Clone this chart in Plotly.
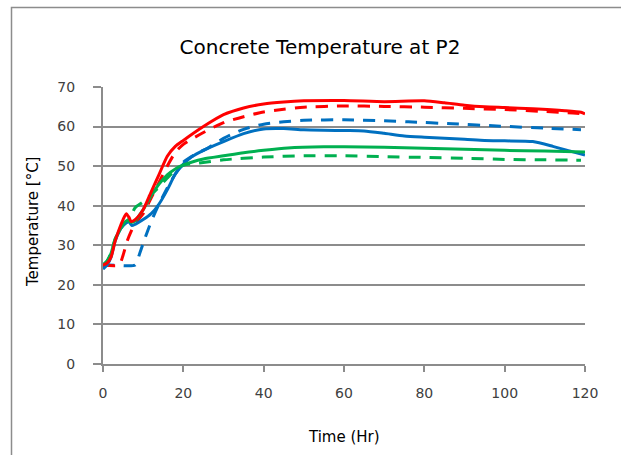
import plotly.graph_objects as go

# Time (hours) and temperature (°C) readings for each sensor series
red_solid_t = [0, 1, 2, 3, 4, 5, 5.8, 6.5, 7, 8, 10, 12, 14, 16, 18, 20, 25, 30, 35, 40, 45, 50, 60, 70, 80, 85, 90, 95, 100, 107, 115, 119, 120]
red_solid_v = [25, 25.5, 27, 31, 34, 36.5, 38, 37, 36, 36.5, 39, 43.5, 48, 52.5, 55, 56.5, 60, 63, 64.7, 65.7, 66.2, 66.5, 66.6, 66.3, 66.5, 66, 65.4, 65, 64.8, 64.5, 64, 63.6, 63.2]

red_dash_t = [0, 4, 5, 6, 7, 8, 10, 12, 14, 16, 18, 20, 25, 30, 35, 40, 45, 50, 60, 70, 80, 90, 100, 110, 117, 120]
red_dash_v = [25, 25, 27.5, 31, 33.5, 35.5, 38, 42, 46, 50, 53.5, 55.5, 58.5, 61, 62.5, 63.7, 64.4, 64.9, 65.2, 65.1, 64.9, 64.6, 64.3, 63.8, 63.4, 63.2]

blue_solid_t = [0, 1, 2, 3, 4, 5, 6.4, 7.2, 8, 10, 12, 14, 16, 18, 20, 22, 25, 30, 35, 40, 45, 50, 60, 65, 70, 75, 80, 90, 95, 100, 107, 112, 117, 120]
blue_solid_v = [24, 25, 27, 31, 33.5, 35, 36, 35, 35.3, 36.5, 38, 40.5, 44, 48, 50.5, 52.3, 54, 56.2, 58.2, 59.4, 59.5, 59.2, 59, 58.9, 58.3, 57.6, 57.3, 56.8, 56.5, 56.4, 56.2, 55, 53.6, 52.8]

blue_dash_t = [0, 1, 8, 9, 10, 12, 14, 16, 18, 20, 23, 26, 30, 35, 40, 45, 50, 60, 70, 76, 87, 99, 110, 119]
blue_dash_v = [24.5, 25, 25, 27.5, 30.5, 36, 40.5, 44.5, 48, 51, 53, 54.5, 57, 59.3, 60.6, 61.2, 61.6, 61.7, 61.5, 61.2, 60.7, 60.1, 59.6, 59.2]

green_solid_t = [0, 1, 2, 3, 4, 5, 6, 7, 8, 10, 12, 14, 16, 18, 20, 22, 25, 30, 35, 40, 46, 55, 60, 70, 80, 90, 100, 110, 120]
green_solid_v = [25, 26, 28, 31.5, 33.5, 35.3, 36.3, 35.8, 36.2, 39, 42.5, 45.5, 47.8, 49.3, 50.3, 51, 51.8, 52.6, 53.4, 54, 54.6, 54.9, 54.9, 54.8, 54.5, 54.3, 54, 53.8, 53.6]

green_dash_t = [0, 1, 2, 3, 4, 5, 6, 7, 8, 10, 12, 14, 16, 18, 20, 24, 30, 40, 50, 60, 70, 80, 90, 100, 110, 119]
green_dash_v = [25, 26, 28, 31.5, 33.5, 35, 36, 37.5, 39.5, 41, 42.8, 44.8, 47, 49, 50.2, 50.8, 51.6, 52.3, 52.6, 52.6, 52.4, 52.2, 52, 51.7, 51.6, 51.5]

y_ticks = [0, 10, 20, 30, 40, 50, 60, 70]
x_ticks = [0, 20, 40, 60, 80, 100, 120]

RED = "#FF0000"
BLUE = "#0070C0"
GREEN = "#00B050"
GRID = "#8c8c8c"
DASH = "12px,9px"
FONT = "DejaVu Sans, sans-serif"

fig = go.Figure()

series = [
    (blue_dash_t, blue_dash_v, BLUE, DASH),
    (green_dash_t, green_dash_v, GREEN, DASH),
    (red_dash_t, red_dash_v, RED, DASH),
    (blue_solid_t, blue_solid_v, BLUE, "solid"),
    (green_solid_t, green_solid_v, GREEN, "solid"),
    (red_solid_t, red_solid_v, RED, "solid"),
]
for t, v, c, d in series:
    fig.add_trace(go.Scatter(
        x=t, y=v, mode="lines",
        line=dict(color=c, width=3, dash=d, shape="spline", smoothing=0.6),
        showlegend=False, hoverinfo="skip",
    ))

fig.update_layout(
    width=621, height=455,
    margin=dict(l=103, r=36, t=87, b=91),
    paper_bgcolor="white", plot_bgcolor="white",
    font=dict(family=FONT, size=14, color="#404040"),
    title=dict(
        text="Concrete Temperature at P2",
        font=dict(family=FONT, size=20, color="#000000"),
        x=(320 - 103) / 482, xref="paper", xanchor="center",
        y=1 - 47 / 455, yref="container", yanchor="middle",
    ),
    xaxis=dict(
        range=[0, 120], tickvals=x_ticks, showgrid=False, zeroline=False,
        showline=True, linecolor=GRID, linewidth=2,
        ticks="outside", ticklen=6, tickwidth=2, tickcolor=GRID,
        ticklabelstandoff=9,
    ),
    yaxis=dict(
        range=[0, 70], tickvals=y_ticks, showgrid=True, gridcolor=GRID, gridwidth=2,
        zeroline=False, showline=True, linecolor=GRID, linewidth=2,
        ticks="outside", ticklen=8, tickwidth=2, tickcolor=GRID,
        ticklabelstandoff=15,
    ),
    annotations=[
        dict(text="Time (Hr)", xref="paper", yref="paper",
             x=(344 - 103) / 482, y=(364 - 437) / 277,
             xanchor="center", yanchor="middle", showarrow=False,
             font=dict(family=FONT, size=15, color="#000000")),
        dict(text="Temperature [°C]", xref="paper", yref="paper",
             x=(33 - 103) / 482, y=(364 - 222) / 277, textangle=-90,
             xanchor="center", yanchor="middle", showarrow=False,
             font=dict(family=FONT, size=15, color="#000000")),
    ],
    shapes=[
        # chart-area frame
        dict(type="rect", xref="paper", yref="paper",
             x0=(11.5 - 103) / 482, x1=(640 - 103) / 482,
             y0=(364 - 470) / 277, y1=(364 - 7.5) / 277,
             line=dict(color=GRID, width=1.5), fillcolor="rgba(0,0,0,0)", layer="below"),
    ],
)

fig.write_html("out.html")
